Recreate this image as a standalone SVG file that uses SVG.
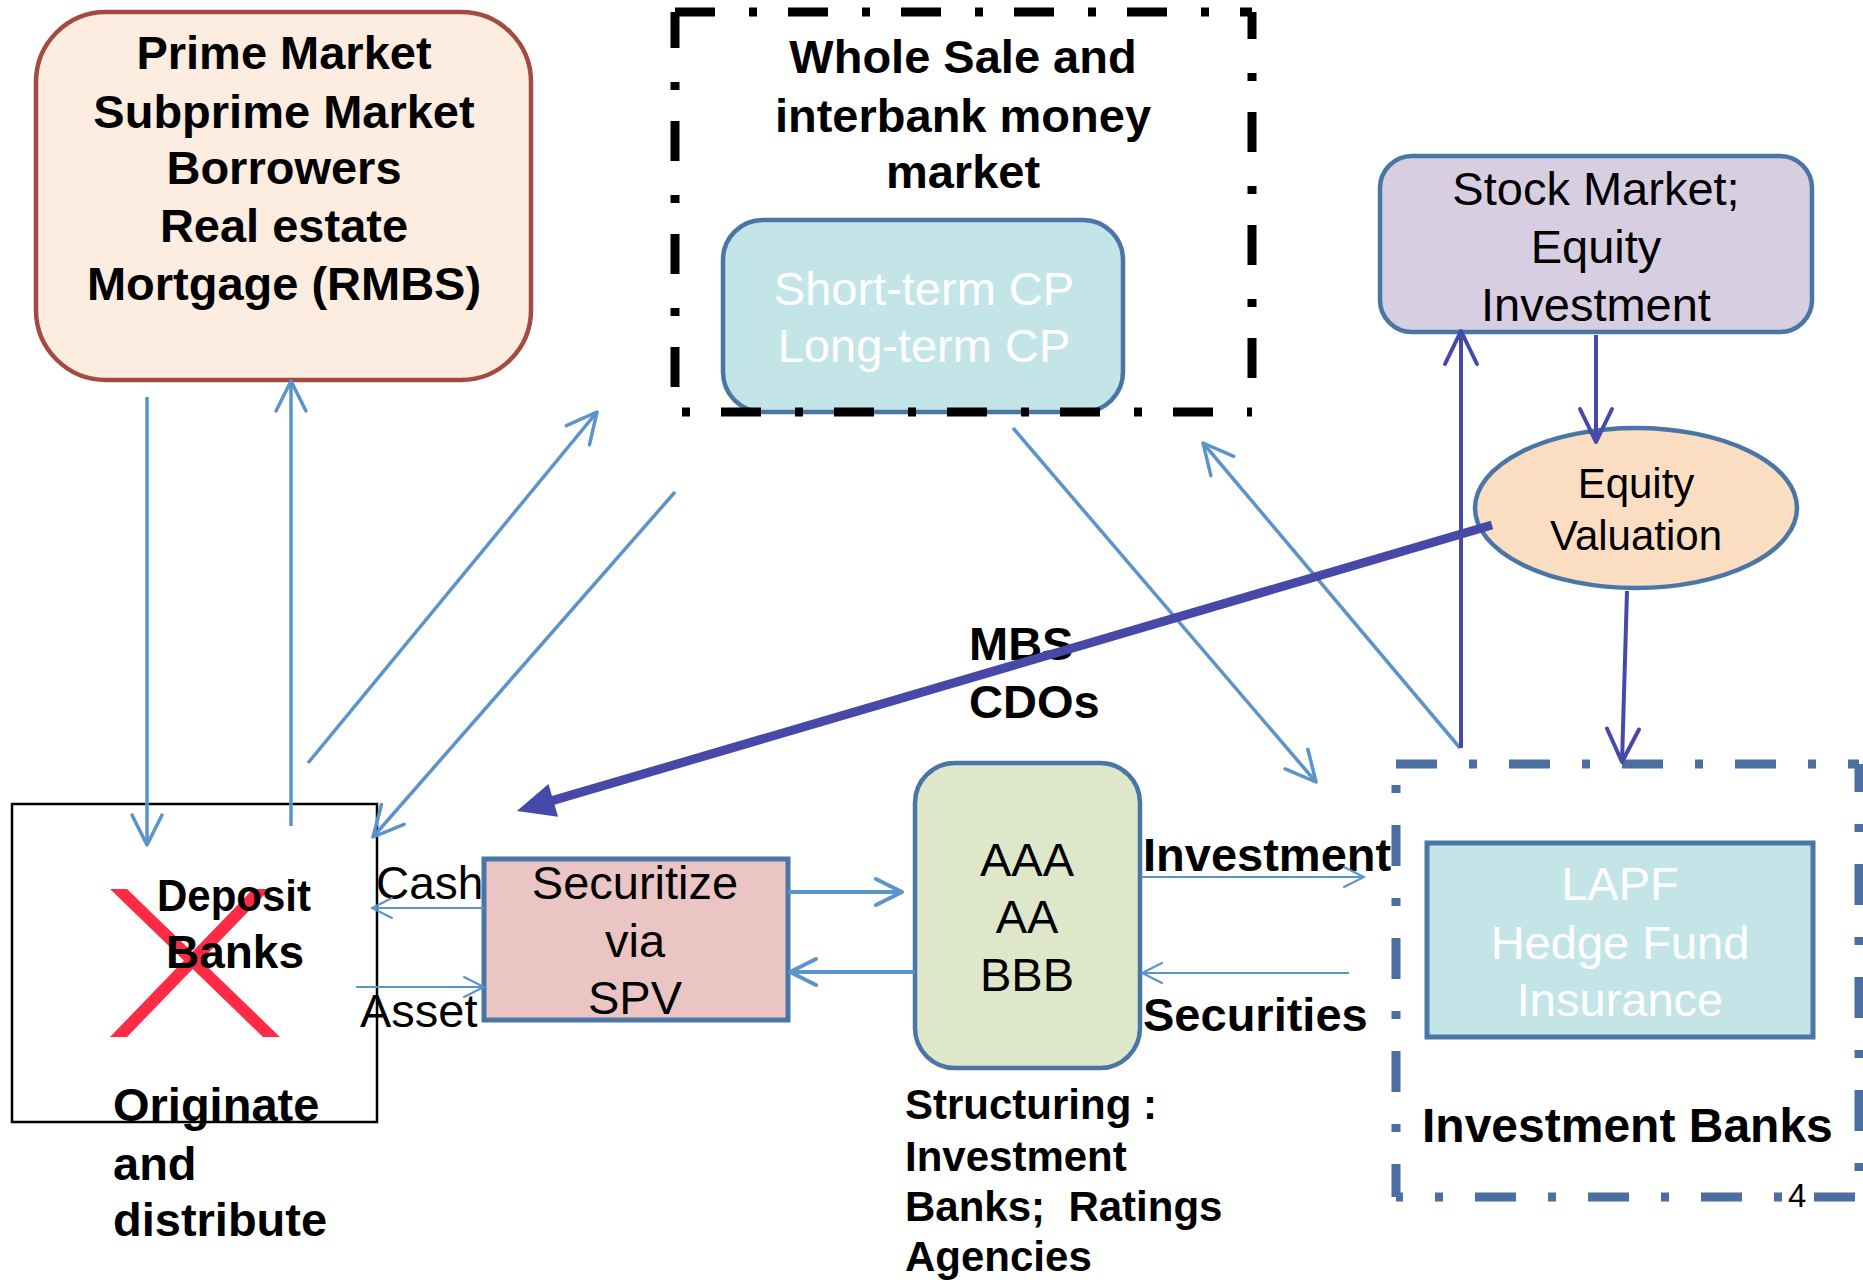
<svg xmlns="http://www.w3.org/2000/svg" width="1863" height="1280" viewBox="0 0 1863 1280">
<style>
.b{font-family:"Liberation Sans",Arial,sans-serif;font-weight:bold;font-size:47px;fill:#000}
.r{font-family:"Liberation Sans",Arial,sans-serif;font-size:47px;fill:#000}
.w{fill:#fff}
.m{text-anchor:middle}
.lb{fill:none;stroke:#5B93CB;stroke-width:3.5}
.th{fill:none;stroke:#5B93CB;stroke-width:2}
.md{fill:none;stroke:#5B93CB;stroke-width:4}
.db{fill:none;stroke:#4649A8;stroke-width:4}
.blk{fill:none;stroke:#000;stroke-width:9;stroke-dasharray:40 34 8 31}
.blu{fill:none;stroke:#4A6FA0;stroke-width:9;stroke-dasharray:41 32 8 32}
</style>
<defs>
<marker id="aL" markerUnits="userSpaceOnUse" orient="auto" overflow="visible" markerWidth="40" markerHeight="40" refX="0" refY="0"><path d="M-30,-15 L0,0 L-30,15" fill="none" stroke="#5B93CB" stroke-width="3.5" stroke-linecap="round" stroke-linejoin="round"/></marker>
<marker id="aT" markerUnits="userSpaceOnUse" orient="auto" overflow="visible" markerWidth="30" markerHeight="30" refX="0" refY="0"><path d="M-20,-10 L0,0 L-20,10" fill="none" stroke="#5B93CB" stroke-width="2" stroke-linecap="round"/></marker>
<marker id="aM" markerUnits="userSpaceOnUse" orient="auto" overflow="visible" markerWidth="40" markerHeight="40" refX="0" refY="0"><path d="M-26,-13 L0,0 L-26,13" fill="none" stroke="#5B93CB" stroke-width="4" stroke-linecap="round" stroke-linejoin="round"/></marker>
<marker id="aD" markerUnits="userSpaceOnUse" orient="auto" overflow="visible" markerWidth="40" markerHeight="40" refX="0" refY="0"><path d="M-33,-16 L0,0 L-33,16" fill="none" stroke="#4649A8" stroke-width="4" stroke-linecap="round" stroke-linejoin="round"/></marker>
<marker id="aF" markerUnits="userSpaceOnUse" orient="auto" overflow="visible" markerWidth="60" markerHeight="60" refX="0" refY="0"><path d="M-18,-17 L20,0 L-18,17 Z" fill="#4649A8"/></marker>
</defs>
<rect width="1863" height="1280" fill="#fff"/>

<g id="prime">
<rect x="36" y="12" width="495" height="368" rx="70" ry="70" fill="#FDEDE1" stroke="#A34B42" stroke-width="4.5"/>
<text class="b m" x="284" y="69">Prime Market</text>
<text class="b m" x="284" y="128">Subprime Market</text>
<text class="b m" x="284" y="184">Borrowers</text>
<text class="b m" x="284" y="242">Real estate</text>
<text class="b m" x="284" y="300">Mortgage (RMBS)</text>
</g>

<g id="wholesale">
<text class="b m" x="963" y="73">Whole Sale and</text>
<text class="b m" x="963" y="132">interbank money</text>
<text class="b m" x="963" y="188">market</text>
<g id="cp">
<rect x="723" y="220" width="400" height="192" rx="40" ry="40" fill="#C4E5E8" stroke="#4A76A6" stroke-width="4.5"/>
<text class="r w m" x="924" y="305">Short-term CP</text>
<text class="r w m" x="924" y="362">Long-term CP</text>
</g>
<path class="blk" d="M675,12 H1252"/>
<path class="blk" d="M1252,12 V412" stroke-dashoffset="13"/>
<path class="blk" d="M675,12 V412" stroke-dashoffset="4"/>
<path class="blk" d="M675,412 H1252" stroke-dashoffset="67"/>
</g>

<g id="stock">
<rect x="1380" y="156" width="432" height="176" rx="32" ry="32" fill="#D7CEE2" stroke="#4A76A6" stroke-width="4.5"/>
<text class="r m" x="1596" y="205">Stock Market;</text>
<text class="r m" x="1596" y="263">Equity</text>
<text class="r m" x="1596" y="321">Investment</text>
</g>

<g id="valuation">
<ellipse cx="1636" cy="508" rx="161" ry="80" fill="#FBDDC2" stroke="#4A76A6" stroke-width="4.5"/>
<text class="r m" x="1636" y="498" style="font-size:42px">Equity</text>
<text class="r m" x="1636" y="550" style="font-size:42px">Valuation</text>
</g>

<g id="deposit">
<rect x="12" y="804" width="365" height="318" fill="#fff" stroke="#000" stroke-width="2.5"/>
<polygon points="110,889 127,889 280,1037 263,1037" fill="#FF2A44"/>
<polygon points="253,889 270,889 127,1037 110,1037" fill="#FF2A44"/>
<text class="b m" x="234" y="911" style="font-size:44px" textLength="154" lengthAdjust="spacingAndGlyphs">Deposit</text>
<text class="b m" x="235" y="968" style="font-size:46px">Banks</text>
<text class="b" x="113" y="1121">Originate</text>
<text class="b" x="113" y="1180">and</text>
<text class="b" x="113" y="1236">distribute</text>
</g>

<g id="spv">
<rect x="484" y="859" width="304" height="161" fill="#EBC5C4" stroke="#4A76A6" stroke-width="5"/>
<text class="r m" x="635" y="899">Securitize</text>
<text class="r m" x="635" y="957">via</text>
<text class="r m" x="635" y="1014">SPV</text>
</g>

<g id="tranches">
<rect x="915" y="763" width="225" height="305" rx="40" ry="40" fill="#DEE7C9" stroke="#4A76A6" stroke-width="4.5"/>
<text class="r m" x="1027" y="876">AAA</text>
<text class="r m" x="1027" y="933">AA</text>
<text class="r m" x="1027" y="991">BBB</text>
<text class="b" x="905" y="1119" style="font-size:42px">Structuring :</text>
<text class="b" x="905" y="1171" style="font-size:42px">Investment</text>
<text class="b" x="905" y="1221" style="font-size:42px;white-space:pre">Banks;  Ratings</text>
<text class="b" x="905" y="1271" style="font-size:42px">Agencies</text>
</g>

<g id="investmentbanks">
<rect x="1427" y="843" width="386" height="194" fill="#C4E5E8" stroke="#4A76A6" stroke-width="5"/>
<text class="r w m" x="1620" y="900">LAPF</text>
<text class="r w m" x="1620" y="959">Hedge Fund</text>
<text class="r w m" x="1620" y="1016">Insurance</text>
<text class="b" x="1422" y="1142" style="font-size:48px">Investment Banks</text>
<path class="blu" d="M1396,764 H1859"/>
<path class="blu" d="M1396,764 V1197" stroke-dashoffset="52"/>
<path class="blu" d="M1396,1197 H1859" stroke-dashoffset="34"/>
<path class="blu" d="M1859,764 V1197" stroke-dashoffset="13"/>
<text class="r" x="1788" y="1207" style="font-size:33px">4</text>
</g>

<g id="labels">
<text class="r" x="376" y="899" style="font-size:46px">Cash</text>
<text class="r" x="360" y="1027">Asset</text>
<text class="b" x="1143" y="871">Investment</text>
<text class="b" x="1143" y="1031">Securities</text>
<text class="b" x="969" y="660">MBS</text>
<text class="b" x="969" y="718">CDOs</text>
</g>

<g id="connectors">
<line class="lb" x1="147" y1="397" x2="147" y2="845" marker-end="url(#aL)"/>
<line class="lb" x1="291" y1="826" x2="291" y2="381" marker-end="url(#aL)"/>
<line class="lb" x1="308" y1="763" x2="597" y2="412" marker-end="url(#aL)"/>
<line class="lb" x1="675" y1="492" x2="373" y2="837" marker-end="url(#aL)"/>
<line class="lb" x1="1013" y1="428" x2="1316" y2="782" marker-end="url(#aL)"/>
<line class="lb" x1="1460" y1="748" x2="1203" y2="443" marker-end="url(#aL)"/>
<line class="th" x1="484" y1="908" x2="372" y2="908" marker-end="url(#aT)"/>
<line class="th" x1="356" y1="987" x2="484" y2="987" marker-end="url(#aT)"/>
<line class="th" x1="1141" y1="877" x2="1364" y2="877" marker-end="url(#aT)"/>
<line class="th" x1="1349" y1="973" x2="1142" y2="973" marker-end="url(#aT)"/>
<line class="md" x1="788" y1="892" x2="902" y2="892" marker-end="url(#aM)"/>
<line class="md" x1="915" y1="972" x2="790" y2="972" marker-end="url(#aM)"/>
<line class="db" x1="1461" y1="748" x2="1461" y2="331" marker-end="url(#aD)"/>
<line class="db" x1="1596" y1="335" x2="1596" y2="442" marker-end="url(#aD)"/>
<line class="db" x1="1627" y1="591" x2="1622" y2="762" marker-end="url(#aD)"/>
<line x1="1492" y1="525" x2="536" y2="805.4" stroke="#4649A8" stroke-width="9" marker-end="url(#aF)"/>
</g>
</svg>
